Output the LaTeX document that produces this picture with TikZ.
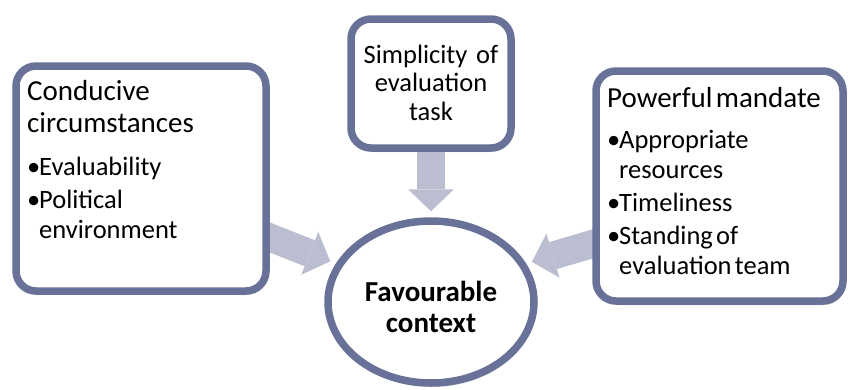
\documentclass[tikz,border=0pt]{standalone}
\usepackage{fontspec}
\setmainfont{Carlito}
\usetikzlibrary{positioning,calc,shapes.geometric,arrows.meta,shadows,backgrounds}

\definecolor{rimblue}{RGB}{104,113,152}
\definecolor{arrowgrey}{RGB}{186,190,208}

\newcommand{\ttlfont}{\fontsize{29}{32}\selectfont}
\newcommand{\itmfont}{\fontsize{26.5}{30}\selectfont}
\newcommand{\bitem}[1]{\par\hangindent=12pt\hangafter=1\noindent\makebox[12pt][l]{•}#1\par}

\begin{document}
\begin{tikzpicture}[
    x=1pt, y=-1pt,
    rim/.style={draw=rimblue, line width=7.5pt, fill=white,
        drop shadow={opacity=0.3, shadow xshift=1pt, shadow yshift=-4pt}},
    box/.style={rim, rounded corners=20pt},
    boxtext/.style={inner sep=0pt, align=left, anchor=base west, text width=235pt},
    fat/.style={draw=arrowgrey, line width=28pt, shorten >=6pt,
        -{Triangle[width=46pt, length=22pt, line width=0pt, fill=arrowgrey]}}
]
\useasboundingbox (0,0) rectangle (850,389);

% the three boxes and the context
\node[box, minimum width=250pt, minimum height=225pt] (cond) at (141,178.5) {};
\node[box, minimum width=160pt, minimum height=129pt] (simp) at (431,83.5) {};
\node[box, minimum width=247pt, minimum height=230pt] (mand) at (719.5,186) {};
\node[rim, ellipse, minimum width=206pt, minimum height=162pt, align=center,
    font=\bfseries\fontsize{29}{31}\selectfont] (ctx) at (431,302)
    {\rule{0pt}{31pt}Favourable\\context};

% box texts
\node[boxtext] (condtxt) at (27,100) {\ttlfont Conducive\\circumstances\par\vspace{13pt}
    \itmfont\bitem{Evaluability}\vspace{3pt}\bitem{Political\newline environment}};
\node[inner sep=0pt, align=center, text width=150pt, anchor=base,
    font=\fontsize{26.5}{28.5}\selectfont] (simptxt) at (431,63) {Simplicity of\\evaluation\\task};
\node[boxtext] (mandtxt) at (607,107) {\ttlfont Powerful mandate\par\vspace{11pt}
    \itmfont\bitem{Appropriate\newline resources}\vspace{3pt}\bitem{Timeliness}\vspace{3pt}
    \bitem{Standing of\newline evaluation team}};

% fat arrows behind the boxes
\begin{scope}[on background layer]
\draw[fat] ($(cond.east)+(-10,55)$) -- (ctx.158);
\draw[fat] ($(mand.west)+(10,55)$) -- (ctx.22);
\draw[fat] ($(simp.south)+(0,-10)$) -- (ctx.north);
\end{scope}

\end{tikzpicture}
\end{document}
